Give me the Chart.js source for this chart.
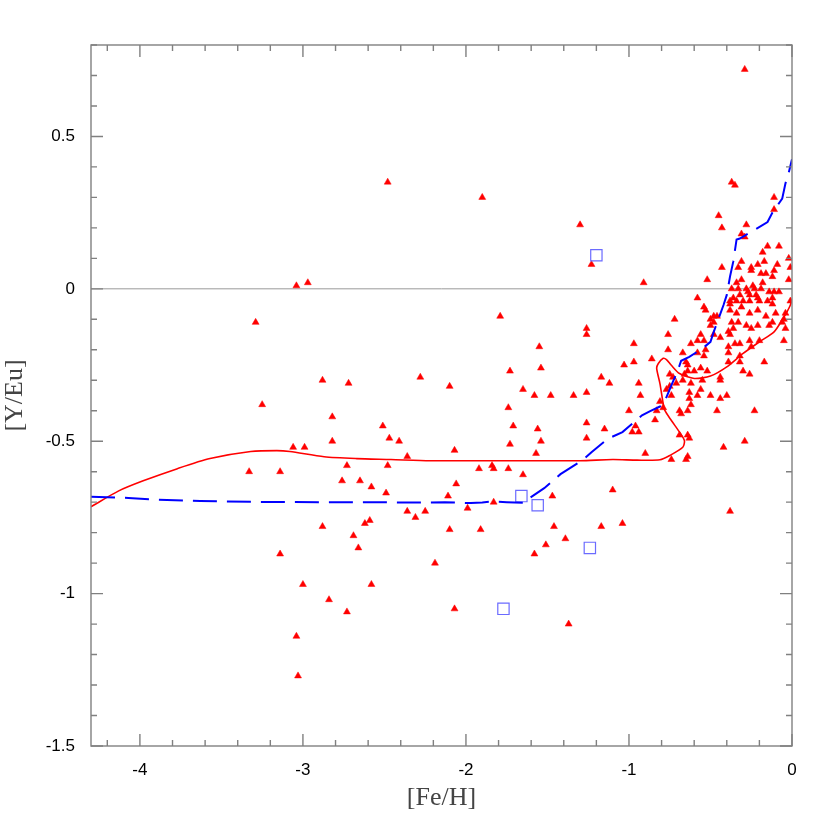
<!DOCTYPE html>
<html>
<head>
<meta charset="utf-8">
<title>[Y/Eu] vs [Fe/H]</title>
<script src="https://cdn.jsdelivr.net/npm/chart.js@4.4.1/dist/chart.umd.min.js"></script>
<style>
  body { margin: 0; background: #fff; }
  #wrap { width: 836px; height: 836px; }
</style>
</head>
<body>
<div id="wrap"><canvas id="yeu" width="836" height="836"></canvas></div>
<script>
// observed stars, [Fe/H], [Y/Eu]
const starsHalo = [
  [-3.29,-0.11],[-3.25,-0.38],[-3.33,-0.60],[-3.14,-0.60],[-3.06,-0.52],[-2.99,-0.52],
  [-3.14,-0.87],[-3.00,-0.97],[-3.04,-1.14],[-3.03,-1.27],[-2.88,-0.30],[-2.72,-0.31],
  [-2.82,-0.42],[-2.82,-0.50],[-2.88,-0.78],[-2.84,-1.02],[-2.73,-0.58],[-2.76,-0.63],
  [-2.65,-0.63],[-2.58,-0.65],[-2.49,-0.67],[-2.69,-0.81],[-2.66,-0.85],[-2.62,-0.77],
  [-2.59,-0.76],[-2.58,-0.97],[-2.73,-1.06],[-2.51,-0.45],[-2.47,-0.49],[-2.41,-0.50],
  [-2.36,-0.55],[-2.48,-0.58],[-2.36,-0.73],[-2.31,-0.75],[-2.25,-0.73],[-2.48,0.35],
  [-3.04,0.01],[-2.97,0.02],[-2.28,-0.29]
];
const starsThick = [
  [-2.10,-0.32],[-1.90,0.30],[-1.30,0.21],[-1.23,0.08],[-0.91,0.02],[-1.79,-0.09],
  [-1.26,-0.13],[-1.26,-0.15],[-1.55,-0.19],[-0.97,-0.18],[-1.03,-0.25],[-0.97,-0.24],
  [-0.86,-0.23],[-1.73,-0.27],[-1.54,-0.26],[-1.17,-0.29],[-1.12,-0.31],[-0.94,-0.31],
  [-1.65,-0.33],[-1.58,-0.35],[-1.48,-0.35],[-1.34,-0.35],[-1.26,-0.34],[-0.93,-0.35],
  [-1.74,-0.39],[-1.00,-0.40],[-1.71,-0.45],[-1.56,-0.46],[-1.26,-0.44],[-1.15,-0.46],
  [-0.98,-0.47],[-0.94,-0.47],[-0.96,-0.45],[-1.54,-0.50],[-1.73,-0.51],[-1.26,-0.49],
  [-2.07,-0.53],[-1.57,-0.54],[-0.90,-0.54],[-1.92,-0.59],[-1.84,-0.58],[-1.83,-0.59],
  [-1.74,-0.59],[-1.65,-0.61],[-2.06,-0.64],[-2.11,-0.68],[-1.99,-0.72],[-1.83,-0.70],
  [-1.47,-0.68],[-1.10,-0.66],[-2.10,-0.79],[-1.91,-0.79],[-1.46,-0.78],[-1.17,-0.78],
  [-1.04,-0.77],[-1.39,-0.82],[-1.51,-0.84],[-1.58,-0.87],[-2.19,-0.90],[-2.07,-1.05],
  [-1.37,-1.10]
];
const starsDisk = [
  [-0.29,0.72],[-0.37,0.35],[-0.35,0.34],[-0.11,0.30],[-0.11,0.26],[-0.45,0.24],
  [-0.43,0.20],[-0.28,0.21],[-0.31,0.18],[-0.29,0.17],[-0.15,0.14],[-0.08,0.14],
  [-0.18,0.12],[-0.17,0.09],[-0.02,0.10],[-0.43,0.07],[-0.31,0.09],[-0.33,0.07],
  [-0.25,0.07],[-0.25,0.06],[-0.21,0.08],[-0.09,0.08],[-0.19,0.05],[-0.16,0.05],
  [-0.11,0.06],[-0.12,0.04],[-0.01,0.07],[-0.02,0.03],[-0.52,0.03],[-0.34,0.02],
  [-0.31,0.03],[-0.18,0.02],[-0.37,0.00],[-0.33,0.00],[-0.28,0.00],[-0.24,0.01],
  [-0.23,0.00],[-0.19,0.00],[-0.14,-0.01],[-0.11,-0.01],[-0.08,-0.01],[-0.58,-0.03],
  [-0.27,-0.01],[-0.26,-0.02],[-0.22,-0.02],[-0.21,-0.03],[-0.32,-0.02],[-0.36,-0.03],
  [-0.38,-0.04],[-0.34,-0.04],[-0.30,-0.04],[-0.26,-0.04],[-0.20,-0.04],[-0.15,-0.04],
  [-0.12,-0.03],[-0.38,-0.05],[-0.31,-0.06],[-0.12,-0.05],[-0.54,-0.06],[-0.01,-0.04],
  [-0.72,-0.10],[-0.53,-0.07],[-0.48,-0.09],[-0.46,-0.09],[-0.50,-0.10],[-0.50,-0.12],
  [-0.48,-0.11],[-0.38,-0.07],[-0.34,-0.08],[-0.26,-0.08],[-0.21,-0.07],[-0.16,-0.09],
  [-0.12,-0.11],[-0.14,-0.12],[-0.21,-0.12],[-0.25,-0.13],[-0.28,-0.12],[-0.33,-0.11],
  [-0.36,-0.13],[-0.37,-0.11],[-0.39,-0.14],[-0.38,-0.15],[-0.44,-0.16],[-0.56,-0.15],
  [-0.76,-0.15],[-0.48,-0.15],[-0.54,-0.17],[-0.58,-0.17],[-0.62,-0.18],[-0.35,-0.18],
  [-0.32,-0.18],[-0.26,-0.17],[-0.20,-0.17],[-0.25,-0.19],[-0.39,-0.19],[-0.05,-0.17],
  [-0.04,-0.13],[-0.05,-0.10],[-0.04,-0.08],[-0.10,-0.08],[-0.76,-0.20],[-0.67,-0.21],
  [-0.58,-0.21],[-0.53,-0.20],[-0.54,-0.22],[-0.65,-0.24],[-0.64,-0.25],[-0.39,-0.21],
  [-0.39,-0.24],[-0.32,-0.24],[-0.32,-0.22],[-0.30,-0.27],[-0.26,-0.28],[-0.17,-0.24],
  [-0.56,-0.26],[-0.60,-0.27],[-0.64,-0.27],[-0.52,-0.27],[-0.66,-0.28],[-0.44,-0.29],
  [-0.44,-0.30],[-0.55,-0.30],[-0.67,-0.30],[-0.62,-0.31],[-0.71,-0.31],[-0.56,-0.33],
  [-0.63,-0.34],[-0.58,-0.35],[-0.50,-0.35],[-0.44,-0.36],[-0.40,-0.35],[-0.63,-0.36],
  [-0.74,-0.35],[-0.75,-0.28],[-0.73,-0.29],[-0.75,-0.32],[-0.77,-0.33],[-0.81,-0.37],
  [-0.79,-0.39],[-0.69,-0.40],[-0.68,-0.41],[-0.62,-0.38],[-0.64,-0.40],[-0.46,-0.40],
  [-0.23,-0.40],[-0.83,-0.40],[-0.84,-0.43],[-0.69,-0.48],[-0.64,-0.48],[-0.63,-0.49],
  [-0.29,-0.50],[-0.42,-0.52],[-0.74,-0.56],[-0.65,-0.56],[-0.64,-0.55],[-0.06,-0.11],
  [-0.38,-0.73]
];
// open squares
const boxStars = [[-1.20,0.11],[-1.66,-0.68],[-1.56,-0.71],[-1.24,-0.85],[-1.77,-1.05]];

// model curves
const redFeH = [-4.30,-4.13,-3.98,-3.77,-3.57,-3.32,-3.16,-3.08,-2.87,-2.67,-2.46,-2.22,-1.79,-1.30,
  -1.10,-0.95,-0.81,-0.75,-0.67,-0.66,-0.69,-0.74,-0.78,-0.79,-0.81,-0.83,-0.82,-0.79,-0.77,-0.74,
  -0.69,-0.60,-0.50,-0.40,-0.30,-0.20,-0.11,-0.06,-0.03,-0.01,0.00];
const redYEu = [-0.715,-0.663,-0.630,-0.590,-0.557,-0.534,-0.531,-0.534,-0.551,-0.557,-0.560,-0.564,
  -0.564,-0.564,-0.560,-0.562,-0.561,-0.547,-0.520,-0.498,-0.470,-0.432,-0.399,-0.377,-0.311,-0.261,
  -0.245,-0.228,-0.232,-0.251,-0.278,-0.294,-0.286,-0.256,-0.212,-0.174,-0.141,-0.102,-0.075,-0.053,-0.036];
const blueFeH = [-4.30,-4.07,-3.89,-3.63,-3.32,-2.87,-2.22,-2.13,-1.97,-1.90,-1.84,-1.75,-1.64,-1.62,
  -1.52,-1.42,-1.28,-1.23,-1.13,-1.04,-0.92,-0.87,-0.81,-0.79,-0.77,-0.74,-0.70,-0.68,-0.63,-0.55,
  -0.50,-0.48,-0.45,-0.42,-0.40,-0.38,-0.36,-0.34,-0.32,-0.26,-0.15,-0.12,-0.06,-0.04,-0.02,0.00];
const blueYEu = [-0.682,-0.686,-0.692,-0.696,-0.699,-0.700,-0.701,-0.700,-0.703,-0.701,-0.698,-0.700,
  -0.702,-0.690,-0.654,-0.608,-0.560,-0.536,-0.492,-0.470,-0.415,-0.401,-0.386,-0.382,-0.355,-0.317,
  -0.267,-0.236,-0.223,-0.196,-0.174,-0.141,-0.097,-0.053,-0.020,0.041,0.090,0.162,0.165,0.184,0.219,
  0.250,0.296,0.346,0.381,0.425];

const xTickVals = [-4, -3, -2, -1, 0];
const yTickVals = [-1.5, -1, -0.5, 0, 0.5];

function toPts(list) { return list.map(p => ({ x: p[0], y: p[1] })); }
function zip(xs, ys) { return xs.map((v, i) => ({ x: v, y: ys[i] })); }

// frame with inward ticks on all four sides + zero line
const frameTicks = {
  id: 'frameTicks',
  beforeDatasetsDraw(chart) {
    const { ctx, chartArea: a, scales } = chart;
    const y0 = scales.y.getPixelForValue(0);
    ctx.save();
    ctx.strokeStyle = '#9a9a9a';
    ctx.lineWidth = 1;
    ctx.beginPath();
    ctx.moveTo(a.left, y0);
    ctx.lineTo(a.right, y0);
    ctx.stroke();
    ctx.restore();
  },
  afterDraw(chart) {
    const { ctx, chartArea: a, scales } = chart;
    ctx.save();
    ctx.strokeStyle = '#808080';
    ctx.lineWidth = 1.4;
    ctx.strokeRect(a.left, a.top, a.right - a.left, a.bottom - a.top);
    ctx.beginPath();
    for (let k = -21; k <= 0; k++) {
      const px = scales.x.getPixelForValue(k / 5);
      const len = (k % 5 === 0) ? 12 : 6;
      ctx.moveTo(px, a.bottom); ctx.lineTo(px, a.bottom - len);
      ctx.moveTo(px, a.top); ctx.lineTo(px, a.top + len);
    }
    for (let k = -15; k <= 8; k++) {
      const py = scales.y.getPixelForValue(k / 10);
      const len = (k % 5 === 0) ? 12 : 6;
      ctx.moveTo(a.left, py); ctx.lineTo(a.left + len, py);
      ctx.moveTo(a.right, py); ctx.lineTo(a.right - len, py);
    }
    ctx.stroke();
    ctx.restore();
  }
};

const tickFont = { family: 'Liberation Sans', size: 17 };
const titleFont = { family: 'Liberation Serif', size: 26 };

new Chart(document.getElementById('yeu'), {
  type: 'scatter',
  data: {
    datasets: [
      {
        data: zip(blueFeH, blueYEu),
        showLine: true, pointRadius: 0, borderColor: '#0000ff', borderWidth: 2,
        borderDash: [24, 10], tension: 0
      },
      {
        data: zip(redFeH, redYEu),
        showLine: true, pointRadius: 0, borderColor: '#ff0000', borderWidth: 1.6,
        tension: 0.25
      },
      {
        data: toPts(boxStars),
        pointStyle: 'rect', pointRadius: 8, backgroundColor: 'rgba(0,0,0,0)',
        borderColor: '#6b6bff', borderWidth: 1.2
      },
      {
        data: toPts(starsHalo.concat(starsThick, starsDisk)),
        pointStyle: 'triangle', pointRadius: 4, backgroundColor: '#ff0000',
        borderColor: '#ff0000', borderWidth: 0.5
      }
    ]
  },
  options: {
    responsive: false,
    animation: false,
    layout: { padding: { top: 45, right: 44, left: 0, bottom: 0 } },
    plugins: { legend: { display: false }, tooltip: { enabled: false } },
    scales: {
      x: {
        type: 'linear', min: -4.3, max: 0,
        afterBuildTicks: s => { s.ticks = xTickVals.map(v => ({ value: v })); },
        afterFit: s => { s.height = 90; },
        grid: { display: false, drawTicks: false, tickLength: 0 },
        border: { display: false },
        ticks: { font: tickFont, color: '#000', padding: 14, maxRotation: 0, callback: v => String(v) },
        title: { display: true, text: '[Fe/H]', font: titleFont, color: '#444', padding: { top: 0, bottom: 22 } }
      },
      y: {
        type: 'linear', min: -1.5, max: 0.8,
        afterBuildTicks: s => { s.ticks = yTickVals.map(v => ({ value: v })); },
        afterFit: s => { s.width = 91; },
        grid: { display: false, drawTicks: false, tickLength: 0 },
        border: { display: false },
        ticks: { font: tickFont, color: '#000', padding: 16, callback: v => String(v) },
        title: { display: true, text: '[Y/Eu]', font: titleFont, color: '#444', padding: { top: 0, bottom: 0 } }
      }
    }
  },
  plugins: [frameTicks]
});
</script>
</body>
</html>
